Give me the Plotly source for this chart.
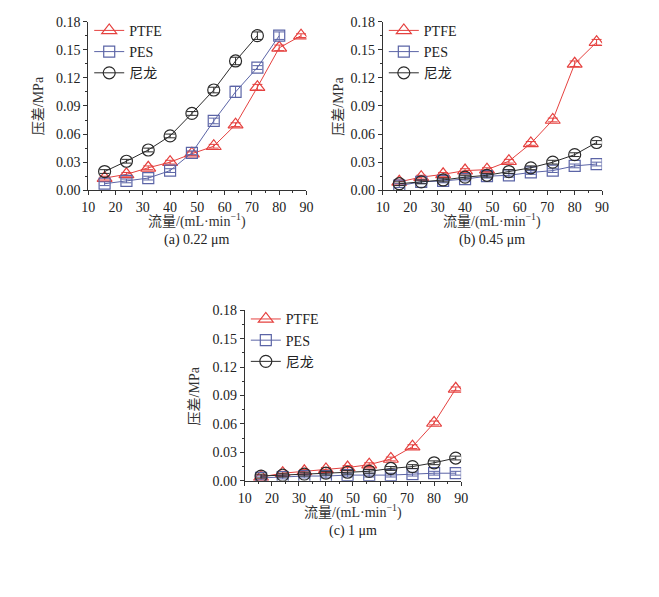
import plotly.graph_objects as go

W, H = 659, 597
(fnt, cjk) = ("Liberation Serif", "Liberation Serif, Noto Sans CJK SC")
(c_ptfe, c_pes, c_ny) = ("#e5413f", "#5b64a6", "#2b2b2b")

flow = [16, 24, 32, 40, 48, 56, 64, 72, 80, 88]

# (a) 0.22 um
a_ptfe = [0.013, 0.017, 0.024, 0.030, 0.039, 0.047, 0.070, 0.110, 0.152, 0.165]
a_pes = [0.007, 0.010, 0.013, 0.021, 0.040, 0.074, 0.105, 0.131, 0.165]
a_ny = [0.020, 0.031, 0.043, 0.058, 0.082, 0.107, 0.138, 0.165]
a_ptfe_err = [0.002, 0.002, 0.002, 0.002, 0.002, 0.002, 0.002, 0.003, 0.003, 0.002]
a_pes_err = [0.002, 0.002, 0.002, 0.002, 0.002, 0.003, 0.006, 0.002, 0.004]
a_ny_err = [0.002, 0.002, 0.002, 0.002, 0.002, 0.003, 0.004, 0.004]

# (b) 0.45 um
b_ptfe = [0.009, 0.014, 0.017, 0.021, 0.022, 0.031, 0.050, 0.075, 0.135, 0.158]
b_pes = [0.005, 0.009, 0.010, 0.012, 0.015, 0.016, 0.019, 0.021, 0.026, 0.028]
b_ny = [0.007, 0.009, 0.011, 0.014, 0.016, 0.020, 0.024, 0.030, 0.038, 0.051]
b_ptfe_err = [0.002, 0.002, 0.002, 0.002, 0.002, 0.002, 0.002, 0.002, 0.003, 0.003]
b_pes_err = [0.002, 0.002, 0.002, 0.002, 0.002, 0.002, 0.002, 0.002, 0.002, 0.002]
b_ny_err = [0.002, 0.002, 0.002, 0.002, 0.002, 0.002, 0.002, 0.002, 0.002, 0.002]

# (c) 1 um
c_ptfe_v = [0.004, 0.008, 0.010, 0.012, 0.014, 0.017, 0.023, 0.036, 0.061, 0.097]
c_pes_v = [0.003, 0.004, 0.005, 0.005, 0.006, 0.006, 0.006, 0.007, 0.008, 0.008]
c_ny_v = [0.005, 0.006, 0.007, 0.008, 0.009, 0.010, 0.013, 0.015, 0.019, 0.024]
c_err = [0.002, 0.002, 0.002, 0.002, 0.002, 0.002, 0.002, 0.002, 0.002, 0.002]

names = ["PTFE", "PES", "尼龙"]
captions = ["(a) 0.22 μm", "(b) 0.45 μm", "(c) 1 μm"]
x_title = "流量/(mL·min<sup>−1</sup>)"
y_title = "压差/MPa"
y_ticks = [0.00, 0.03, 0.06, 0.09, 0.12, 0.15, 0.18]
x_ticks = [10, 20, 30, 40, 50, 60, 70, 80, 90]

panels = [
    [(a_ptfe, a_ptfe_err), (a_pes, a_pes_err), (a_ny, a_ny_err)],
    [(b_ptfe, b_ptfe_err), (b_pes, b_pes_err), (b_ny, b_ny_err)],
    [(c_ptfe_v, c_err), (c_pes_v, c_err), (c_ny_v, c_err)],
]

# pixel boxes of the three plot areas: left, right, top, bottom, y-title x
boxes = [(83, 306, 15, 188, 33), (384, 608, 15, 188, 339), (243, 464, 311, 486, 192)]
symbols = ["triangle-up-open", "square-open", "circle-open"]
sizes = [13, 11, 12]
colors = [c_ptfe, c_pes, c_ny]

fig = go.Figure()
for i, series in enumerate(panels):
    ax = "" if i == 0 else str(i + 1)
    lg = "legend" if i == 0 else f"legend{i + 1}"
    for (vals, err), nm, sym, sz, col in zip(series, names, symbols, sizes, colors):
        fig.add_trace(go.Scatter(
            x=flow[:len(vals)], y=vals, name=nm,
            mode="lines+markers",
            line=dict(color=col, width=1),
            marker=dict(symbol=sym, size=sz, color=col, line=dict(width=1.2, color=col)),
            error_y=dict(type="data", array=err[:len(vals)], color=col, thickness=1, width=5),
            xaxis="x" + ax, yaxis="y" + ax, legend=lg,
        ))

layout = dict(width=W, height=H, margin=dict(l=0, r=0, t=0, b=0),
              plot_bgcolor="white", paper_bgcolor="white", showlegend=True,
              font=dict(family=fnt, size=14, color="#222"))
annotations = []
for i, (l, r, t, b, yt) in enumerate(boxes):
    ax = "" if i == 0 else str(i + 1)
    xd = [l / W, r / W]
    yd = [1 - b / H, 1 - t / H]
    axis_common = dict(showline=True, linecolor="#333", linewidth=1, ticks="outside",
                       ticklen=4, tickcolor="#333", showgrid=False, zeroline=False,
                       tickfont=dict(family=fnt, size=14, color="#222"))
    layout["xaxis" + ax] = dict(axis_common, domain=xd, range=[10, 90], tickvals=x_ticks,
                                anchor="y" + ax,
                                minor=dict(ticks="outside", ticklen=2, dtick=5, tickcolor="#333"))
    layout["yaxis" + ax] = dict(axis_common, domain=yd, range=[0, 0.18], tickvals=y_ticks,
                                tickformat=".2f", anchor="x" + ax,
                                minor=dict(ticks="outside", ticklen=2, dtick=0.015, tickcolor="#333"))
    lg = "legend" if i == 0 else f"legend{i + 1}"
    layout[lg] = dict(x=(l + 1) / W, y=1 - (t - 7) / H, xanchor="left", yanchor="top",
                      bgcolor="rgba(0,0,0,0)", tracegroupgap=0,
                      font=dict(family=cjk, size=14, color="#222"))
    annotations.append(dict(text=x_title, x=(l + r) / 2 / W, y=1 - (b + 31) / H,
                            xref="paper", yref="paper", showarrow=False,
                            xanchor="center", yanchor="middle",
                            font=dict(family=cjk, size=14, color="#333")))
    annotations.append(dict(text=y_title, x=yt / W, y=1 - (t + b) / 2 / H, textangle=-90,
                            xref="paper", yref="paper", showarrow=False,
                            xanchor="center", yanchor="middle",
                            font=dict(family=cjk, size=14, color="#333")))
    annotations.append(dict(text=captions[i], x=(l + r) / 2 / W, y=1 - (b + 51) / H,
                            xref="paper", yref="paper", showarrow=False,
                            xanchor="center", yanchor="middle",
                            font=dict(family=fnt, size=14, color="#222")))
layout["annotations"] = annotations
fig.update_layout(**layout)

fig.write_html("out.html", config={"displayModeBar": False},
               post_script="document.body.style.margin='0';")
